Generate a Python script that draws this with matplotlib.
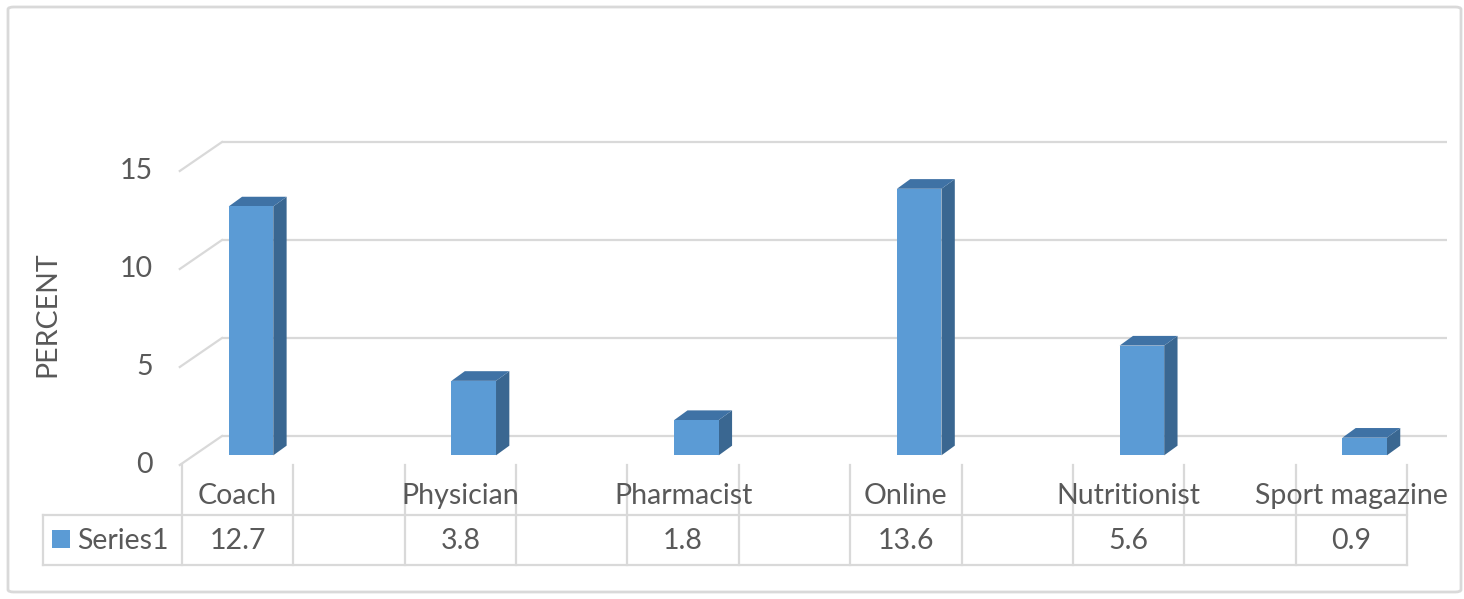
import matplotlib
matplotlib.use("Agg")
import matplotlib.pyplot as plt
from matplotlib.patches import Polygon, Rectangle, FancyBboxPatch

# ---------------- data ----------------
categories = ["Coach", "Physician", "Pharmacist", "Online", "Nutritionist", "Sport magazine"]
values = [12.7, 3.8, 1.8, 13.6, 5.6, 0.9]
value_labels = ["12.7", "3.8", "1.8", "13.6", "5.6", "0.9"]
y_ticks = [0, 5, 10, 15]
series_name = "Series1"
y_label = "PERCENT"

# ---------------- style ----------------
plt.rcParams['font.family'] = ['Lato', 'DejaVu Sans']
TEXT = '#595959'
GRID = '#d9d9d9'
FRONT = '#5B9BD5'
SIDE = '#3A6791'
TOP = '#3F72A5'
FS = 20.5

W, H = 1464, 599
fig = plt.figure(figsize=(W / 100, H / 100), dpi=100)
ax = fig.add_axes([0, 0, 1, 1])

# layout in pixels (table left edge / floor front, column width, baseline, px per unit)
X0 = 182.0
N_COLS = 2 * len(categories) - 1
COLW = (1407.0 - X0) / N_COLS
Y0 = 465.0
PPU = 19.6
ax.set_xlim((0 - X0) / COLW, (W - X0) / COLW)
ax.set_ylim((Y0 - H) / PPU, Y0 / PPU)
ax.axis('off')


def px(x, y):
    return (x - X0) / COLW, (Y0 - y) / PPU


# depth of the 3-D floor (data units)
DX = 40.0 / COLW
DY = 29.0 / PPU

# back wall gridlines and left diagonal edges
for t in y_ticks:
    ax.plot([DX, N_COLS + DX], [t + DY, t + DY], color=GRID, lw=1.6, zorder=1,
            solid_capstyle='butt')
    ax.plot([-0.02, DX], [t, t + DY], color=GRID, lw=1.6, zorder=1)
    tx, _ = px(153, 0)
    ax.text(tx, t, str(t), ha='right', va='center', fontsize=FS, color=TEXT)

# y label
lx, ly = px(47, 314)
ax.text(lx, ly, y_label, rotation=90, ha='center', va='center', fontsize=FS, color=TEXT)

# bars (3-D columns)
BW = 0.40
ddx, ddy = DX / 3.0, DY / 3.0
for i, v in enumerate(values):
    cx = 2 * i + 0.5 + ddx
    x0, x1 = cx - BW / 2, cx + BW / 2
    yb, yt = ddy, ddy + v
    ax.add_patch(Polygon([(x1, yb), (x1 + ddx, yb + ddy), (x1 + ddx, yt + ddy), (x1, yt)],
                         closed=True, facecolor=SIDE, edgecolor='none', zorder=3))
    ax.add_patch(Polygon([(x0, yt), (x0 + ddx, yt + ddy), (x1 + ddx, yt + ddy), (x1, yt)],
                         closed=True, facecolor=TOP, edgecolor='none', zorder=3))
    ax.add_patch(Rectangle((x0, yb), BW, v, facecolor=FRONT, edgecolor='none', zorder=4))

# data table
_, row1 = px(0, 515)
_, row2 = px(0, 565)
left_x, _ = px(43, 0)
TL = dict(color=GRID, lw=1.6, zorder=2)
ax.plot([left_x, N_COLS], [row1, row1], **TL)
ax.plot([left_x, N_COLS], [row2, row2], **TL)
ax.plot([left_x, left_x], [row1, row2], **TL)
for c in range(N_COLS + 1):
    ax.plot([c, c], [0, row2], **TL)

_, hy = px(0, 496)
_, vy = px(0, 541)
for i, (cat, lab) in enumerate(zip(categories, value_labels)):
    ax.text(2 * i + 0.5, hy, cat, ha='center', va='center', fontsize=FS, color=TEXT, zorder=5)
    ax.text(2 * i + 0.5, vy, lab, ha='center', va='center', fontsize=FS, color=TEXT, zorder=5)

# legend key in table
kx0, ky0 = px(52, 548)
kx1, ky1 = px(70, 530)
ax.add_patch(Rectangle((kx0, ky0), kx1 - kx0, ky1 - ky0, facecolor=FRONT, edgecolor='none'))
sx, _ = px(77, 0)
ax.text(sx, vy, series_name, ha='left', va='center', fontsize=FS, color=TEXT)

# outer chart border
fig.patches.append(FancyBboxPatch((8 / W, 7 / H), (1461 - 8) / W, (592 - 7) / H,
                                  boxstyle='round,pad=0,rounding_size=0.004',
                                  transform=fig.transFigure, facecolor='none',
                                  edgecolor=GRID, lw=2.0))

fig.savefig('out.png', dpi=100)
